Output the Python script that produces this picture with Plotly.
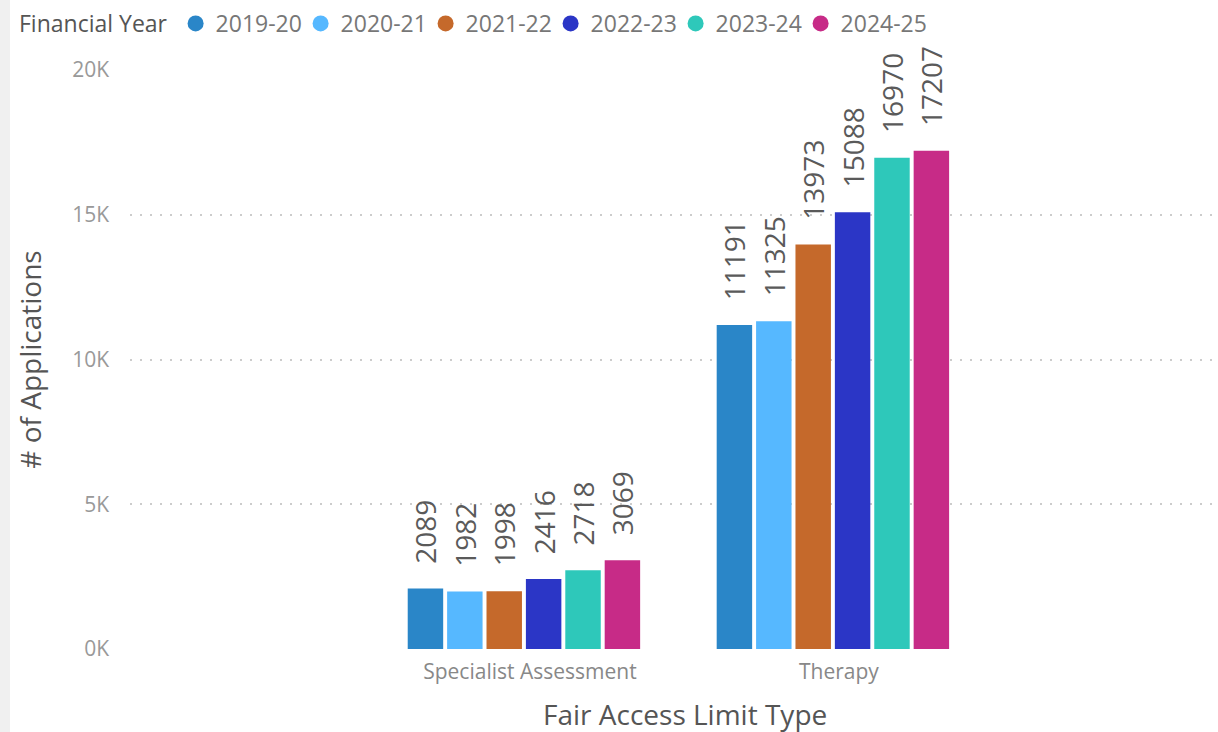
import plotly.graph_objects as go

categories = ["Specialist Assessment", "Therapy"]
years = ["2019-20", "2020-21", "2021-22", "2022-23", "2023-24", "2024-25"]
v_2019_20 = [2089, 11191]
v_2020_21 = [1982, 11325]
v_2021_22 = [1998, 13973]
v_2022_23 = [2416, 15088]
v_2023_24 = [2718, 16970]
v_2024_25 = [3069, 17207]
series = [v_2019_20, v_2020_21, v_2021_22, v_2022_23, v_2023_24, v_2024_25]
colors = ["#2A86C8", "#56B8FF", "#C5692B", "#2B36C6", "#2EC8BA", "#C72B87"]
y_ticks = [0, 5000, 10000, 15000, 20000]
y_ticklabels = ["0K", "5K", "10K", "15K", "20K"]

W, H = 1218, 732
ML, MR, MT, MB = 130, 6, 70, 83
base_font = "Open Sans, sans-serif"
label_font = dict(family=base_font, size=28, color="#5a5a5a")

fig = go.Figure()
for name, vals, col in zip(years, series, colors):
    fig.add_trace(go.Bar(
        x=categories, y=vals, name=name, showlegend=False,
        marker=dict(color=col, line=dict(width=0)),
        text=["\u00a0\u00a0\u00a0" + str(v) for v in vals],
        textposition="outside", textangle=-90, constraintext="none",
        textfont=label_font, cliponaxis=False, hoverinfo="x+y+name",
    ))
# legend entries (circular markers)
for name, col in zip(years, colors):
    fig.add_trace(go.Scatter(
        x=[None], y=[None], mode="markers", name=name,
        marker=dict(color=col, size=16, symbol="circle"),
    ))

pw = W - ML - MR
fig.add_shape(type="rect", xref="paper", yref="paper",
              x0=-ML / pw, x1=(10 - ML) / pw, y0=-1, y1=2,
              fillcolor="#f0f0f0", line=dict(width=0), layer="below")

# x-axis title
fig.add_annotation(text="Fair Access Limit Type", xref="paper", yref="paper",
                   x=(685 - ML) / pw, y=0, xanchor="center", yanchor="middle",
                   yshift=-65, showarrow=False,
                   font=dict(family=base_font, size=28, color="#555"))

fig.update_layout(
    width=W, height=H,
    margin=dict(l=ML, r=MR, t=MT, b=MB, autoexpand=False),
    paper_bgcolor="white", plot_bgcolor="white",
    barmode="group", bargap=0.235, bargroupgap=0.1,
    font=dict(family=base_font, color="#666"),
    legend=dict(
        orientation="h", xref="container", yref="container",
        x=17 / W, y=1 - 2 / H, xanchor="left", yanchor="top",
        title=dict(text="Financial Year", side="left",
                   font=dict(family=base_font, size=23, color="#555")),
        font=dict(family=base_font, size=23, color="#777"),
        entrywidth=80, entrywidthmode="pixels",
        itemclick=False, itemdoubleclick=False,
        bgcolor="rgba(0,0,0,0)",
    ),
    xaxis=dict(
        type="category", range=[-1.275, 2.227],
        showgrid=False, showline=False, zeroline=False, ticks="",
        tickfont=dict(family=base_font, size=21, color="#888"),
        ticklabelstandoff=8, ticklabelshift=6,
    ),
    yaxis=dict(
        range=[0, 20000], tickvals=y_ticks, ticktext=y_ticklabels,
        showgrid=True, gridcolor="#cccccc", griddash="2px,8px", gridwidth=2,
        zeroline=False, showline=False, ticks="",
        tickfont=dict(family=base_font, size=21, color="#999"),
        ticklabelstandoff=20,
        title=dict(text="# of Applications", standoff=22,
                   font=dict(family=base_font, size=28, color="#555")),
    ),
)

fig.write_html("out.html", config={"displayModeBar": False},
               post_script="document.body.style.margin='0';")
